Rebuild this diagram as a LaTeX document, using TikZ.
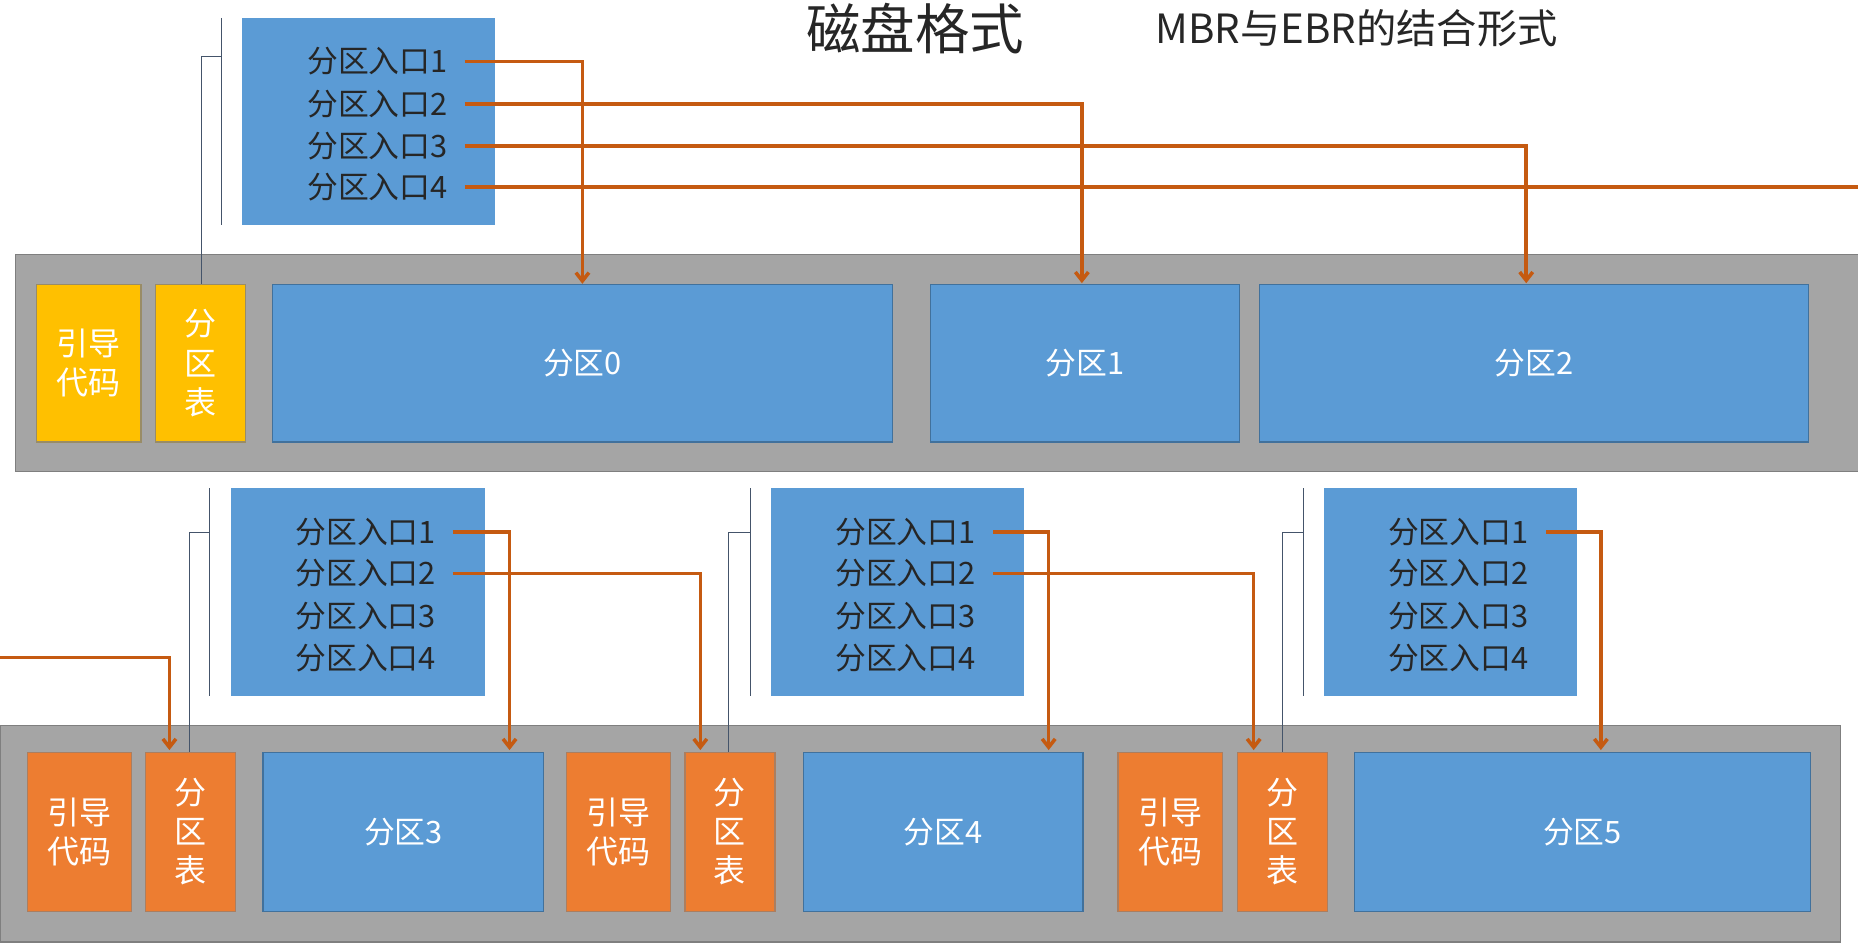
\documentclass[tikz,border=0pt]{standalone}
\usepackage{fontspec}
\setmainfont{Noto Sans CJK SC}
\usetikzlibrary{arrows.meta}
\definecolor{pblue}{HTML}{5B9BD5}
\definecolor{pbord}{HTML}{41719C}
\definecolor{band}{HTML}{A5A5A5}
\definecolor{bandb}{HTML}{7F7F7F}
\definecolor{pyel}{HTML}{FFC000}
\definecolor{pora}{HTML}{ED7D31}
\definecolor{arr}{HTML}{C55A11}
\definecolor{brk}{HTML}{44546A}
\begin{document}
\begin{tikzpicture}[x=1pt,y=-1pt,
  band/.style={fill=band,draw=bandb,line width=1pt},
  part/.style={fill=pblue,draw=pbord,line width=1pt,text=white,font=\fontsize{26}{28}\selectfont},
  tbl/.style={fill=pblue,draw=none},
  ent/.style={anchor=east,text=black!85,font=\fontsize{26}{28}\selectfont,inner sep=0pt},
  yel/.style={fill=pyel,draw=bandb!80!pyel,line width=1pt,text=white,font=\fontsize{27}{33}\selectfont,align=center},
  ora/.style={fill=pora,draw=bandb!60!pora,line width=1pt,text=white,font=\fontsize{27}{33}\selectfont,align=center},
  link/.style={draw=arr,line width=3pt},
  arw/.style={link,-{Straight Barb[length=7pt,width=11pt]}},
  br/.style={draw=brk,line width=0.8pt}]
\useasboundingbox (0,0) rectangle (1568,802);
% title
\node[anchor=west,font=\fontsize{46}{48}\selectfont,text=black!85,inner sep=0pt] (t1) at (680,24) {磁盘格式};
\node[anchor=west,font=\fontsize{34}{36}\selectfont,text=black!85,inner sep=0pt] (t2) at (975,24) {MBR与EBR的结合形式};
% top band
\path[band] (13,215) rectangle (1575,398);
\node[yel,minimum width=88pt,minimum height=133pt] (yb) at (75,306.5) {引导\\代码};
\node[yel,minimum width=76pt,minimum height=133pt] (yt) at (169,306.5) {分\\区\\表};
\node[part,minimum width=523pt,minimum height=133pt] (p0) at (491.5,306.5) {分区0};
\node[part,minimum width=261pt,minimum height=133pt] (p1) at (915.5,306.5) {分区1};
\node[part,minimum width=463pt,minimum height=133pt] (p2) at (1294.5,306.5) {分区2};
% top table
\node[tbl,minimum width=214pt,minimum height=175pt] (T0) at (311,102.5) {};
\foreach \i/\y in {1/52,2/88,3/123,4/158}{\node[ent] (T0e\i) at (378,\y) {分区入口\i};}
\draw[br] (187,15) -- (187,190);
\draw[br] (187,48) -- (170,48) -- (170,240);
\coordinate (a0) at (392,52); \coordinate (a1) at (392,88); \coordinate (a2) at (392,123); \coordinate (a3) at (392,158);
\draw[arw] (a0) -| (p0.north);
\draw[arw] (a1) -| (913,239);
\draw[arw] (a2) -| (1288,239);
\coordinate (out) at (1570,158);
\draw[link] (a3) -- (out);
% bottom band
\path[band] (0,612) rectangle (1553,795);
\foreach \n/\xb/\xt/\xp/\w/\p/\pw/\k in {A/67/160.5/340.5/237/3/237/1,B/522/616/796/236/4/236/2,C/987.5/1082/1335.5/385/5/385/3}{
  \node[ora,minimum width=88pt,minimum height=134pt] (\n b) at (\xb,702) {引导\\代码};
  \node[ora,minimum width=76pt,minimum height=134pt] (\n t) at (\xt,702) {分\\区\\表};
  \node[part,minimum width=\pw pt,minimum height=134pt] (\n p) at (\xp,702) {分区\p};
}
\foreach \n/\bx/\lx/\bkx in {A/302/177/160,B/757.5/633/615,C/1224/1100/1082}{
  \node[tbl,minimum width=214pt,minimum height=175pt] (\n T) at (\bx,499.5) {};
  \foreach \i/\y in {1/449,2/484,3/520,4/555}{\node[ent] (\n e\i) at (\bx+66,\y) {分区入口\i};}
  \draw[br] (\lx,412) -- (\lx,587);
  \draw[br] (\lx,449) -- (\bkx,449) -- (\bkx,635);
}
\coordinate (inl) at (-2,555);
\draw[arw] (inl) -| (143,633);
\draw[arw] (382,449) -| (430,633);
\draw[arw] (382,484) -| (591,633);
\draw[arw] (838,449) -| (885,633);
\draw[arw] (838,484) -| (1058,633);
\draw[arw] (1305,449) -| (1351,633);
\end{tikzpicture}
\end{document}
